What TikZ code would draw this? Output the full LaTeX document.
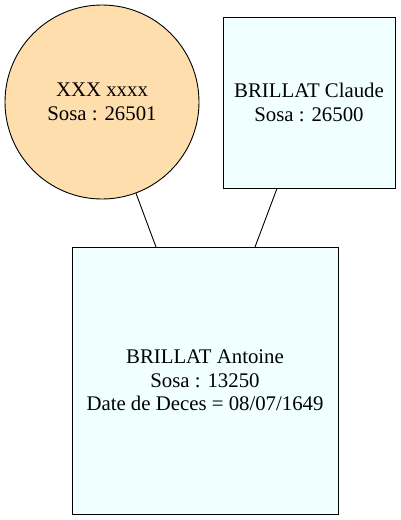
\documentclass[tikz,border=0pt]{standalone}
\usepackage{fontspec}
\setmainfont{Liberation Serif}
\definecolor{navajo}{HTML}{FFDEAD}
\definecolor{azurefill}{HTML}{F0FFFF}
\begin{document}
\begin{tikzpicture}[x=1pt,y=-1pt,
  person/.style={draw=black,line width=0.9pt,align=center,inner sep=0pt,
    font=\fontsize{20.8}{23.5}\selectfont},
  sq/.style={person,rectangle,fill=azurefill},
  circ/.style={person,circle,fill=navajo},
  link/.style={draw=black,line width=0.9pt}]
\useasboundingbox (0,0) rectangle (400,520);
\node[circ,minimum size=194pt] (mother) at (102,102) {XXX xxxx\\Sosa : 26501};
\node[sq,minimum width=172pt,minimum height=171pt] (father) at (309,102.5) {BRILLAT Claude\\Sosa : 26500};
\node[sq,minimum width=266pt,minimum height=267pt] (child) at (205,380.5) {BRILLAT Antoine\\Sosa : 13250\\Date de Deces = 08/07/1649};
\coordinate (c1) at (156,247);
\coordinate (c2) at (255,247);
\draw[link] (mother) -- (c1);
\draw[link] (father.south -| 277,0) -- (c2);
\end{tikzpicture}
\end{document}
